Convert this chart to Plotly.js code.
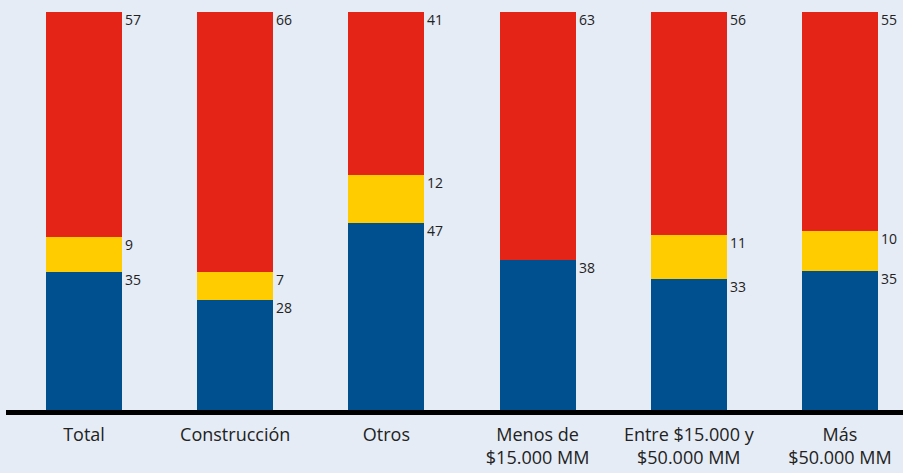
<!DOCTYPE html>
<html>
<head>
<meta charset="utf-8">
<script src="https://cdn.plot.ly/plotly-3.0.1.min.js"></script>
<style>html,body{margin:0;padding:0;background:#E5ECF5;}</style>
</head>
<body>
<div id="chart" style="width:903px;height:473px;"></div>
<script>
const categories = ["Total", "Construcción", "Otros", "Menos de<br>$15.000 MM", "Entre $15.000 y<br>$50.000 MM", "Más<br>$50.000 MM"];
const blueValues = [35, 28, 47, 38, 33, 35];
const yellowValues = [9, 7, 12, 0, 11, 10];
const redValues = [57, 66, 41, 63, 56, 55];

const seriesList = [
  {name: "Azul", values: blueValues, color: "#004F8F"},
  {name: "Amarillo", values: yellowValues, color: "#FFCC00"},
  {name: "Rojo", values: redValues, color: "#E32417"}
];

const traces = seriesList.map(s => ({
  type: "bar",
  x: categories,
  y: s.values,
  name: s.name,
  marker: {color: s.color, line: {width: 0}},
  hoverinfo: "x+text",
  text: s.values.map(String),
  textposition: "none"
}));

const totals = categories.map((c, i) => seriesList.reduce((a, s) => a + s.values[i], 0));
const annotations = [];
categories.forEach((c, i) => {
  let cum = 0;
  seriesList.forEach(s => {
    const v = s.values[i];
    cum += v;
    if (v > 0) {
      annotations.push({
        x: c, y: cum / totals[i] * 100, xref: "x", yref: "y",
        text: String(v), showarrow: false,
        xanchor: "left", yanchor: "top", xshift: 39, yshift: 4,
        font: {family: "Open Sans, sans-serif", size: 14, color: "#222222"}
      });
    }
  });
});

const layout = {
  width: 903, height: 473,
  margin: {l: 6, r: 0, t: 12, b: 63, pad: 0},
  paper_bgcolor: "#E5ECF5", plot_bgcolor: "#E5ECF5",
  barmode: "stack", barnorm: "percent", bargap: 0.497,
  showlegend: false,
  xaxis: {
    type: "category", range: [-0.516, 5.417],
    showline: true, linecolor: "#000000", linewidth: 5,
    showgrid: false, zeroline: false, ticks: "",
    ticklabelstandoff: 4,
    tickfont: {family: "Open Sans, sans-serif", size: 18, color: "#222222"},
    fixedrange: true
  },
  yaxis: {
    range: [0, 100], visible: false, showgrid: false, zeroline: false, fixedrange: true
  },
  annotations: annotations
};

Plotly.newPlot("chart", traces, layout, {displayModeBar: false, staticPlot: true});
</script>
</body>
</html>
